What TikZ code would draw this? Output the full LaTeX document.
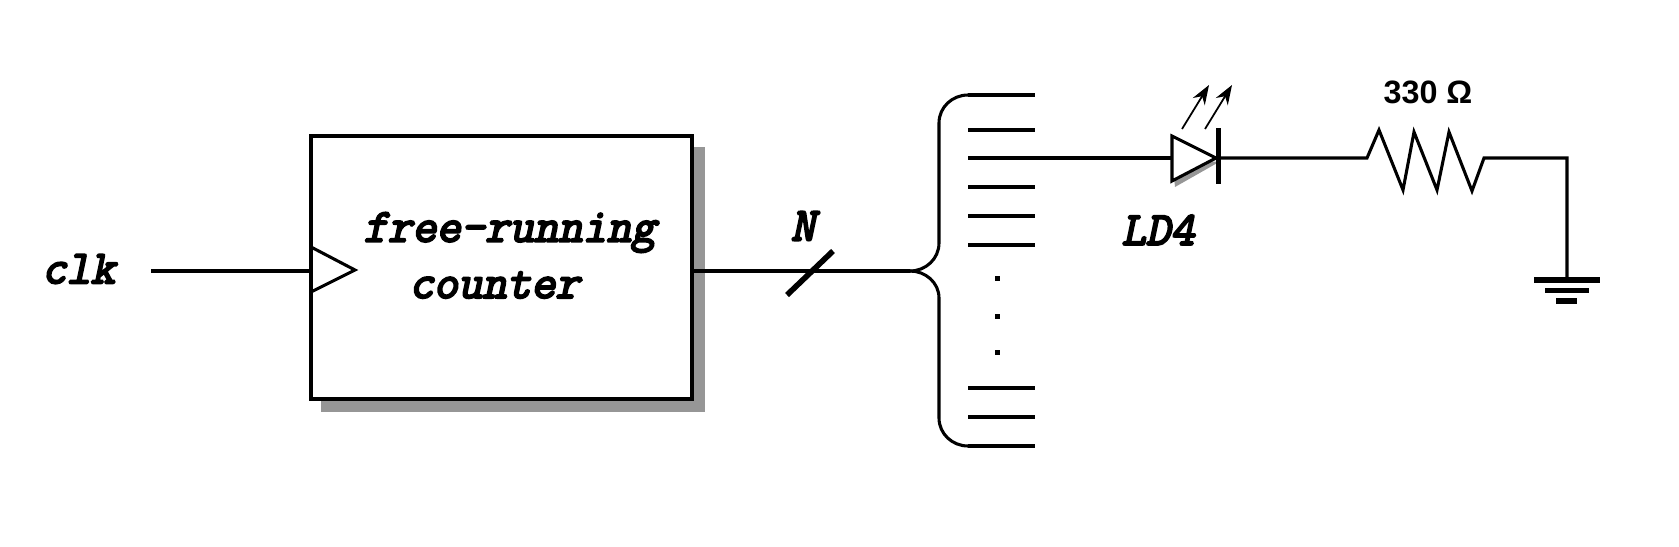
\documentclass[tikz,border=0pt]{standalone}
\usepackage{fontspec}
\usetikzlibrary{arrows.meta}
\setmainfont{Liberation Sans}
\newfontfamily\tagfont[FakeBold=4.5,FakeSlant=0.21]{Latin Modern Mono}
\definecolor{shadowgray}{HTML}{969696}

\begin{document}
\begin{tikzpicture}[x=0.2mm,y=-0.2mm,>={Stealth[length=3.9mm,width=2.8mm]},
    wire/.style={line width=1.75pt},
    tag node/.style={font=\tagfont\fontsize{26.9}{30}\selectfont,inner sep=0pt,anchor=center},
    box node/.style={draw,line width=1.75pt,fill=white,inner sep=0pt,minimum width=381*0.2mm,minimum height=263*0.2mm}]
    \useasboundingbox (0,0) rectangle (1679,546);

    \fill[shadowgray] (321,147) rectangle (705,412);
    \node[box node] (counter) at (501.5,267.5) {};
    \node[tag node] (clk) at (78.5,269) {clk};
    \node[tag node] (free) at (509.5,232.5) {free-running};
    \node[tag node] (cnt) at (494.5,285) {counter};
    \node[tag node] (width) at (803,226) {N};
    \node[tag node] (led) at (1158,230) {LD4};
    \node[inner sep=0pt,font=\bfseries\fontsize{18.4}{20}\selectfont] (ohm) at (1428,92) {330 Ω};

    \coordinate (clkstart) at (151,271);
    \coordinate (clkend) at (311,271);
    \coordinate (cntout) at (692,271);
    \coordinate (split) at (910,271);
    \coordinate (ledin) at (1172,158);
    \coordinate (ledtip) at (1216,158);
    \coordinate (resin) at (1367,158);
    \coordinate (resout) at (1484,158);
    \coordinate (corner) at (1567,158);
    \coordinate (ground) at (1567,280);

    % clock input
    \draw[wire] (clkstart) -- (clkend);
    \draw[wire] (311,247) -- (355,270) -- (311,292);

    % bus with its width mark
    \draw[wire] (cntout) -- (split);
    \draw[line width=3.2pt] (787,295) -- (833,251);

    % the bus splits in bits
    \draw[wire] (split) to[out=0,in=-90] (939,243) -- (939,123) to[out=90,in=180] (968,95);
    \draw[wire] (split) to[out=0,in=90] (939,298) -- (939,418) to[out=-90,in=180] (968,446);
    \foreach \y in {95,130,158,187,216,245,388,417,446}
        \draw[wire] (968,\y) -- (1035,\y);
    \foreach \y in {278,316,352}
        \fill (994.5,\y-2.5) rectangle (1000,\y+2.5);

    % led
    \draw[wire] (1035,158) -- (ledin);
    \fill[shadowgray] (1175,187) -- (1219,162) -- (1172,158) -- cycle;
    \draw[wire,fill=white] (ledin |- 0,136) -- (ledtip) -- (ledin |- 0,181) -- cycle;
    \draw[line width=2.8pt] (1218.5,128) -- (1218.5,184);
    \draw[->,line width=1pt] (1182,129) -- (1209,85);
    \draw[->,line width=1pt] (1205,129) -- (1232,85);

    % resistor to ground
    \draw[wire] (ledtip) -- (resin) -- (1379,130) -- (1403,190) -- (1414,132) -- (1437,190) -- (1449,132) -- (1472,191) -- (resout) -- (corner) -- (ground);
    \draw[line width=3.4pt] (1534,280) -- (1600,280);
    \draw[line width=3pt] (1545,290.5) -- (1589,290.5);
    \draw[line width=3pt] (1556,301) -- (1577,301);
\end{tikzpicture}
\end{document}
